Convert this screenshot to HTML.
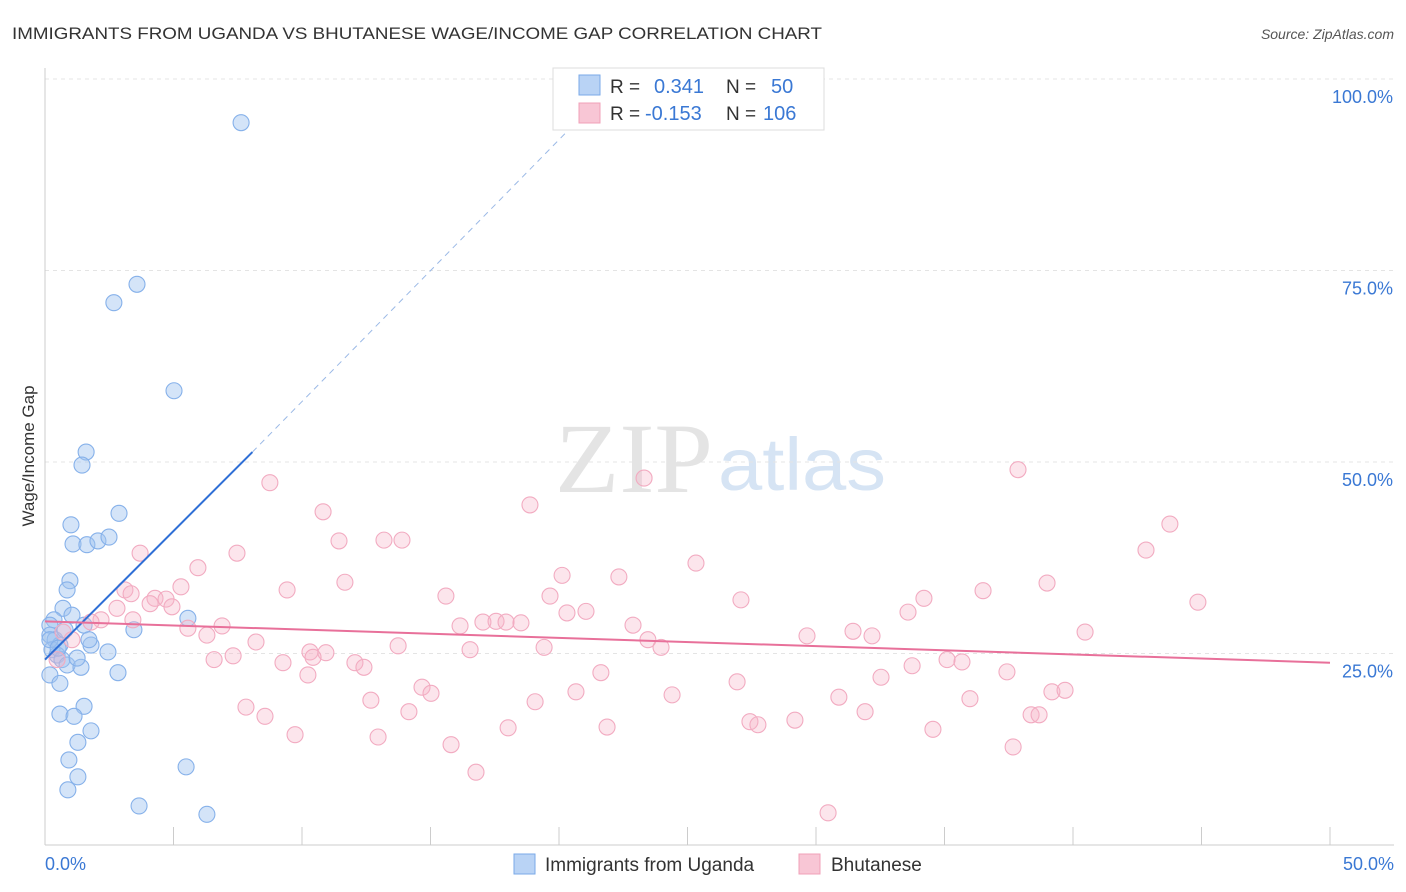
<!DOCTYPE html>
<html><head><meta charset="utf-8">
<style>
body{margin:0;background:#fff;font-family:"Liberation Sans",sans-serif;}
svg{display:block}
</style></head>
<body>
<svg id="chart" width="1406" height="892">
<text x="12" y="39" font-size="17" fill="#333" textLength="810" lengthAdjust="spacingAndGlyphs">IMMIGRANTS FROM UGANDA VS BHUTANESE WAGE/INCOME GAP CORRELATION CHART</text>
<text x="1394" y="39" font-size="14" fill="#555" font-style="italic" text-anchor="end">Source: ZipAtlas.com</text>
<text x="555" y="492" font-size="100" fill="#e4e4e4" font-family="Liberation Serif,serif" textLength="158" lengthAdjust="spacingAndGlyphs">ZIP</text>
<text x="718" y="490" font-size="74" fill="#d6e4f4" textLength="168" lengthAdjust="spacingAndGlyphs">atlas</text>
<g id="grid"></g>
<g id="axes"></g>
<g id="marks"></g>
<text transform="translate(34,456) rotate(-90)" font-size="17" fill="#333" text-anchor="middle">Wage/Income Gap</text>
<g>
<rect x="553" y="68" width="271" height="62" fill="#fff" stroke="#ddd"/>
<rect x="579" y="75" width="21" height="20" fill="#b9d3f5" stroke="#7aaae8"/>
<rect x="579" y="103" width="21" height="20" fill="#f8c6d5" stroke="#f0a0b8"/>
<text x="610" y="93" font-size="19" fill="#333">R =</text>
<text x="654" y="93" font-size="20" fill="#3a78d4">0.341</text>
<text x="726" y="93" font-size="19" fill="#333">N =</text>
<text x="771" y="93" font-size="20" fill="#3a78d4">50</text>
<text x="610" y="120" font-size="19" fill="#333">R =</text>
<text x="645" y="120" font-size="20" fill="#3a78d4">-0.153</text>
<text x="726" y="120" font-size="19" fill="#333">N =</text>
<text x="763" y="120" font-size="20" fill="#3a78d4">106</text>
</g>
<g>
<rect x="514" y="854" width="21" height="20" fill="#b9d3f5" stroke="#7aaae8"/>
<text x="545" y="871" font-size="19" fill="#333">Immigrants from Uganda</text>
<rect x="799" y="854" width="21" height="20" fill="#f8c6d5" stroke="#f0a0b8"/>
<text x="831" y="871" font-size="19" fill="#333">Bhutanese</text>
</g>
</svg>
<script>
const xTicks=[0,5,10,15,20,25,30,35,40,45,50];
const yTicks=[25,50,75,100];
const yTickLabels=["25.0%","50.0%","75.0%","100.0%"];
const xEndLabels=["0.0%","50.0%"];
const ugandaX=[7.63,3.58,2.68,5.02,1.60,1.44,2.88,1.01,1.09,1.63,2.06,2.49,0.97,0.86,0.70,0.35,1.05,0.19,1.52,1.79,1.71,2.45,3.46,5.56,0.19,0.39,0.58,0.27,0.47,0.66,0.86,1.40,1.25,0.19,0.58,2.84,1.52,0.58,1.13,1.79,1.28,0.93,1.28,0.89,3.66,5.49,6.30,0.19,0.78,0.51];
const ugandaY=[94.3,73.2,70.8,59.3,51.3,49.6,43.3,41.8,39.3,39.2,39.7,40.2,34.5,33.3,30.9,29.4,30.0,28.7,28.7,26.1,26.8,25.2,28.1,29.6,27.4,26.8,26.1,25.5,24.8,24.2,23.5,23.2,24.4,22.2,21.1,22.5,18.1,17.1,16.8,14.9,13.4,11.1,8.9,7.2,5.1,10.2,4.0,26.8,28.1,25.7];
const bhutanX=[8.75,10.82,11.44,13.19,13.89,3.70,7.47,18.87,23.31,37.86,43.77,42.84,25.33,20.12,22.33,11.67,5.29,9.42,3.11,5.95,3.35,4.28,4.71,4.94,2.80,4.09,15.60,19.65,27.08,34.20,36.50,38.99,44.86,33.58,20.31,21.05,2.18,1.79,3.42,5.56,6.89,6.30,16.15,17.04,17.55,17.94,18.52,22.88,23.46,23.97,19.42,16.54,13.74,8.21,10.31,10.93,10.43,12.06,12.41,7.32,6.58,9.26,10.23,29.65,31.44,32.18,40.47,33.74,35.10,35.68,37.43,32.53,39.18,39.69,21.63,14.67,15.02,20.66,24.40,26.93,30.89,12.68,7.82,8.56,14.16,31.91,35.99,19.07,18.02,21.87,27.43,27.74,29.18,34.55,38.37,38.68,9.73,12.96,15.80,37.67,16.77,30.47,1.05,0.70,0.47];
const bhutanY=[47.3,43.5,39.7,39.8,39.8,38.1,38.1,44.4,47.9,49.0,41.9,38.5,36.8,35.2,35.0,34.3,33.7,33.3,33.3,36.2,32.8,32.2,32.1,31.1,30.9,31.5,32.5,32.5,32.0,32.2,33.2,34.2,31.7,30.4,30.3,30.5,29.4,29.1,29.4,28.3,28.6,27.4,28.6,29.1,29.2,29.1,29.0,28.7,26.8,25.8,25.8,25.5,26.0,26.5,25.2,25.1,24.5,23.8,23.2,24.7,24.2,23.8,22.2,27.3,27.9,27.3,27.8,23.4,24.2,23.9,22.6,21.9,20.0,20.2,22.5,20.6,19.8,20.0,19.6,21.3,19.3,18.9,18.0,16.8,17.4,17.4,19.1,18.7,15.3,15.4,16.1,15.7,16.3,15.1,17.0,17.0,14.4,14.1,13.1,12.8,9.5,4.2,26.8,27.8,24.2];
const ugandaTrendX=[0,8.07,20.74];
const ugandaTrendY=[24.2,51.3,94.6];
const bhutanTrendX=[0,50];
const bhutanTrendY=[29.2,23.8];

const NS="http://www.w3.org/2000/svg";
const sx=v=>45+v*25.7;
const sy=v=>845-v*7.66;
function mk(tag,attrs,parent){const e=document.createElementNS(NS,tag);for(const k in attrs)e.setAttribute(k,attrs[k]);document.getElementById(parent).appendChild(e);return e;}

let e;
e=mk('line',{x1:45,y1:845,x2:1394,y2:845,stroke:'#ccc'},'axes');


e=mk('line',{x1:45,y1:68,x2:45,y2:845,stroke:'#ccc'},'axes');


xTicks.forEach(t=>{if(t===0)return;
 e=mk('line',{x1:sx(t),y1:827,x2:sx(t),y2:845,stroke:'#ccc'},'axes');
 
 });
e=mk('text',{x:45,y:870,'font-size':18,fill:'#3a78d4'},'axes');e.textContent=xEndLabels[0];


e=mk('text',{x:1394,y:870,'font-size':18,fill:'#3a78d4','text-anchor':'end'},'axes');e.textContent=xEndLabels[1];


yTicks.forEach((t,i)=>{
 e=mk('line',{x1:45,y1:sy(t),x2:1394,y2:sy(t),stroke:'#e4e4e4','stroke-dasharray':'4,4'},'grid');
 
 
 e=mk('text',{x:1393,y:sy(t)+24,'font-size':18,fill:'#3a78d4','text-anchor':'end'},'grid');e.textContent=yTickLabels[i];
 
 
});
ugandaX.forEach((x,i)=>{
 e=mk('circle',{cx:sx(x),cy:sy(ugandaY[i]),r:8,fill:'rgba(160,196,240,0.45)',stroke:'#86b1ea','stroke-width':1.1},'marks');
 
 
});
bhutanX.forEach((x,i)=>{
 e=mk('circle',{cx:sx(x),cy:sy(bhutanY[i]),r:8,fill:'rgba(245,180,200,0.35)',stroke:'#f2abc1','stroke-width':1.1},'marks');
 
 
});
e=mk('line',{x1:sx(ugandaTrendX[0]),y1:sy(ugandaTrendY[0]),x2:sx(ugandaTrendX[1]),y2:sy(ugandaTrendY[1]),stroke:'#2f6fd6','stroke-width':2},'marks');


e=mk('line',{x1:sx(ugandaTrendX[1]),y1:sy(ugandaTrendY[1]),x2:sx(ugandaTrendX[2]),y2:sy(ugandaTrendY[2]),stroke:'#9bb9e6','stroke-width':1,'stroke-dasharray':'6,5'},'marks');


e=mk('line',{x1:sx(bhutanTrendX[0]),y1:sy(bhutanTrendY[0]),x2:sx(bhutanTrendX[1]),y2:sy(bhutanTrendY[1]),stroke:'#e8709a','stroke-width':2},'marks');


</script>
</body></html>
